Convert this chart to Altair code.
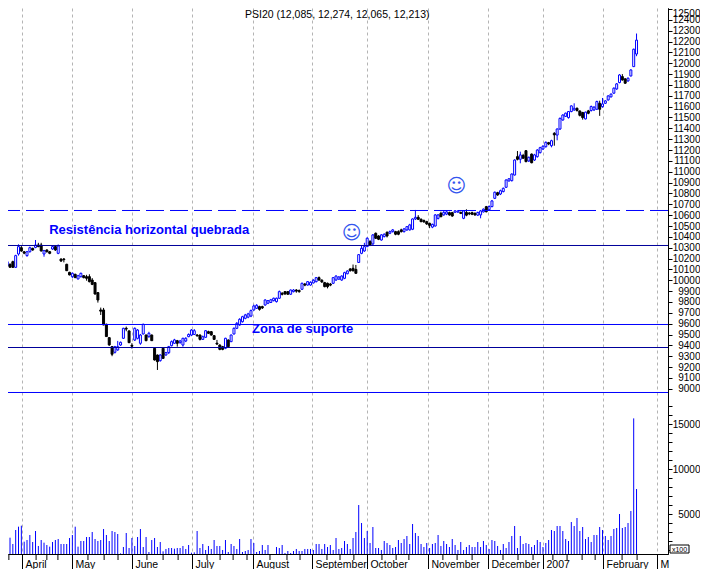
import json
import altair as alt
import pandas as pd

# --- one row per trading day: open, close, high, low (index points) ---
opens = [10079,10125,10131,10147,10171,10119,10242,10300,10262,10227,10263,10294,10303,10325,10325,10242,10279,10263,10288,10310,10248,
 10196,10196,10147,10073,10033,10055,10012,10033,10042,10033,10033,10002,9978,9886,9726,9726,9594,9471,9388,9336,9358,9403,9465,9557,9533,9400,
 9449,9465,9419,9505,9495,9480,9495,9373,9311,9259,9373,9311,9333,9397,9419,9443,9425,9403,9440,9480,9495,9500,9495,9495,9455,9474,9526,9526,9489,9420,9403,9388,9373,9449,9434,9505,9557,9588,9618,9649,9660,9670,
 9726,9741,9757,9757,9772,9788,9795,9812,9803,9834,9880,9895,9895,9871,9895,9910,9905,9917,9965,9956,9956,9975,9987,10024,10000,9978,9972,9965,9972,10002,10010,10002,10018,10060,10104,10110,10100,
 10164,10248,10270,10310,10356,10335,10433,10408,10371,10402,10442,10433,10448,10448,10448,10464,10448,10464,10464,10470,10565,10580,10562,10550,10540,10525,10490,10500,10570,10617,10602,10610,10623,10623,10627,10628,10626,10571,10625,10620,10623,10617,10600,10602,10630,10678,10650,10679,
 10755,10807,10795,10817,10857,10915,10918,10970,11139,11115,11150,11194,11099,11163,11108,11139,11176,11210,11231,11268,11240,11354,11338,11394,11477,11510,11499,11555,11570,11585,11560,11546,11487,11561,11564,11570,11576,11631,11600,11631,11662,11690,11724,11763,11822,11877,11856,11837,11883,11969,12085]
closes = [10125,10156,10171,10120,10119,10227,10310,10270,10250,10263,10300,10279,10325,10310,10270,10273,10263,10248,10310,10279,10316,
 10177,10190,10088,10049,10064,10024,10042,10064,10024,10018,9987,9962,9873,9818,9715,9588,9481,9404,9318,9388,9388,9428,9557,9550,9425,9392,
 9557,9541,9495,9594,9443,9511,9443,9265,9250,9311,9280,9333,9388,9434,9450,9419,9440,9465,9465,9500,9541,9535,9488,9455,9480,9535,9511,9495,9455,9412,9363,9363,9465,9388,9495,9557,9603,9640,9664,9680,9690,9720,
 9763,9769,9732,9745,9818,9812,9820,9834,9834,9895,9870,9874,9871,9910,9910,9900,9895,9972,9955,9987,9981,10000,10024,10002,9985,9941,9941,9955,10024,10039,10030,10039,10070,10085,10088,10088,10064,
 10236,10294,10310,10387,10325,10418,10387,10378,10418,10424,10408,10448,10464,10424,10424,10448,10473,10494,10510,10565,10580,10562,10540,10538,10519,10506,10515,10602,10602,10586,10626,10630,10602,10592,10640,10638,10616,10639,10600,10612,10608,10602,10625,10639,10655,10632,10680,10731,
 10811,10786,10825,10847,10924,10935,10979,11108,11115,11155,11125,11093,11133,11083,11155,11200,11222,11235,11271,11256,11286,11340,11394,11492,11523,11540,11555,11607,11585,11564,11520,11499,11549,11539,11601,11595,11647,11576,11625,11653,11699,11715,11770,11810,11892,11846,11816,11862,11938,12129,12213]
highs = [10135,10165,10180,10155,10180,10235,10331,10315,10270,10270,10310,10300,10371,10345,10345,10280,10285,10270,10320,10320,10330,
 10200,10205,10152,10078,10072,10060,10050,10070,10047,10050,10055,10020,9982,9890,9748,9745,9600,9475,9392,9395,9441,9435,9562,9573,9537,9420,
 9565,9550,9505,9600,9500,9525,9500,9378,9315,9318,9378,9340,9395,9445,9460,9450,9450,9470,9475,9510,9550,9550,9505,9500,9490,9540,9535,9532,9495,9450,9409,9395,9470,9455,9500,9565,9615,9650,9672,9690,9700,9730,
 9775,9780,9765,9765,9825,9818,9828,9840,9840,9905,9890,9900,9898,9915,9918,9918,9915,9978,9975,9992,9990,10010,10030,10035,10010,9985,9978,9975,10030,10045,10038,10045,10078,10092,10112,10145,10141,
 10240,10320,10345,10395,10370,10425,10440,10415,10425,10432,10450,10458,10472,10455,10460,10475,10482,10500,10520,10570,10648,10600,10570,10560,10548,10530,10522,10610,10610,10632,10640,10640,10632,10630,10645,10645,10632,10645,10654,10628,10632,10625,10632,10648,10662,10685,10690,10740,
 10818,10815,10835,10855,10930,10942,10985,11115,11191,11185,11165,11200,11140,11168,11165,11208,11230,11245,11280,11275,11295,11365,11400,11500,11530,11545,11560,11612,11631,11592,11565,11552,11555,11570,11610,11605,11655,11655,11680,11660,11705,11722,11778,11818,11900,11900,11862,11870,11945,12135,12274]
lows = [10065,10115,10125,10115,10115,10115,10227,10262,10240,10217,10255,10272,10295,10305,10265,10217,10255,10240,10280,10270,10240,
 10170,10165,10085,10045,10020,10020,10008,10025,10018,9996,9980,9955,9868,9794,9680,9585,9478,9395,9300,9325,9350,9395,9460,9530,9420,9370,
 9440,9455,9405,9500,9438,9470,9440,9260,9173,9250,9275,9305,9320,9390,9415,9388,9415,9388,9430,9475,9485,9495,9480,9445,9450,9470,9505,9490,9450,9405,9355,9355,9365,9380,9430,9500,9550,9580,9610,9640,9650,9660,
 9720,9735,9720,9735,9765,9780,9790,9805,9795,9828,9860,9865,9865,9865,9888,9885,9885,9910,9945,9950,9950,9970,9980,9995,9975,9935,9925,9945,9965,9995,10005,9995,10010,10055,10080,10080,10060,
 10160,10240,10262,10305,10315,10325,10380,10370,10365,10395,10395,10425,10440,10415,10415,10440,10440,10455,10458,10462,10555,10555,10535,10530,10510,10480,10480,10495,10560,10580,10595,10600,10595,10585,10620,10622,10610,10563,10590,10600,10600,10595,10592,10571,10625,10625,10640,10672,
 10748,10778,10785,10810,10850,10910,10910,10965,11105,11078,11118,11088,11090,11078,11100,11130,11168,11200,11222,11245,11225,11240,11290,11385,11470,11505,11490,11548,11560,11555,11510,11480,11482,11530,11555,11560,11570,11515,11590,11625,11655,11685,11718,11755,11815,11840,11810,11830,11878,11965,12065]
volumes = [2343,1605,2712,2417,1716,3266,3635,3746,1974,2159,2712,1937,3155,1495,2159,1864,1605,1421,1937,2159,2270,1716,1716,1716,2380,2712,3635,1421,2048,2048,2491,2491,3044,2270,2048,2159,3377,2712,2048,3155,3044,2823,683,1384,2934,1273,2380,1495,2491,3377,1384,2491,830,2159,2380,1384,1937,
 904,1163,1273,1273,1199,1273,1273,1495,1163,1605,757,794,3155,1273,1716,1052,1495,1163,2159,1495,1495,1052,2159,830,1716,1495,1163,2270,830,941,1052,2270,1827,830,941,1605,1052,1605,609,609,1384,1273,1605,720,941,720,941,1163,941,941,1163,1163,1163,1052,1716,1716,1163,1716,1384,1605,1052,2380,1163,1273,2048,1716,
 1163,2380,3044,6033,4041,2380,3155,1827,3598,1273,1273,1052,2048,1827,1605,1273,1384,2159,1827,2270,2602,1716,3930,2934,2602,1716,1384,1827,1273,1716,1827,2712,1495,2048,1716,1384,2270,1605,1052,1937,1052,1384,1605,1384,1384,1937,1384,2048,1605,1163,2159,2048,1495,1052,1716,1273,1937,2602,3709,1273,2602,1716,1827,1716,1384,1605,2159,1937,1384,1827,2159,3266,3155,3709,3709,3155,2270,2048,4151,3709,4594,3155,3598,2270,2491,1937,2712,2712,3598,3266,2602,2159,2602,3377,3487,5037,3487,3598,4041,5369,15627,7805]

# --- axes ---
month_days = [7.25,24.85,46,67.2,88.7,109.5,128.9,150.4,171.6,191,212.2,231.2]
month_names = ["April","May","June","July","August","September","October","November","December","2007","February","M"]
week_days = [2.6,12.2,16,19.9,30.5,36.2,41.1,51.3,57,62.3,72.5,77.1,81.7,86.6,94.7,100.7,105.3,114.8,119.4,124.3,134.2,139.2,143.7,155.7,160.7,166,176.9,182.2,187.5,194.5,199.5,204.8,209.4,218.9,224.2]
price_ticks = list(range(9000, 12501, 100))
volume_ticks = list(range(1000, 17001, 1000))

# --- annotations ---
level_solid_blue = [9592.2, 8965.5]
level_dark = [10320.3, 9380.2]
level_dashed = [10642.9]
notes = ["Resistência horizontal quebrada", "Zona de suporte"]
note_day = [16.8, 88.4]
note_price = [10467, 9551]
smile_day = [123.5, 160.5]
smile_price = [10437, 10870]
title_text = "PSI20 (12,085, 12,274, 12,065, 12,213)"

n = len(opens)
assert n == len(closes) == len(highs) == len(lows) == len(volumes) == 225
df = pd.DataFrame({"day": range(n), "o": opens, "c": closes, "h": highs, "l": lows, "v": volumes})
df["top"] = df[["o", "c"]].max(axis=1)
df["bot"] = df[["o", "c"]].min(axis=1)
df["d0"] = df["day"] - 0.35
df["d1"] = df["day"] + 0.35

BLUE = "#0000ff"
FONT = "Liberation Sans"

x_scale = alt.Scale(domain=[2.293, 235.1], nice=False, zero=False)
label_expr = "%s[indexof(%s, datum.value)]" % (json.dumps(month_names), json.dumps(month_days))
x_axis = alt.Axis(values=month_days, labelExpr=label_expr, title=None, grid=True, gridDash=[3, 3],
                  gridColor="#b4b4b4", gridWidth=1, tickSize=15, tickColor="#000000", domainColor="#000000",
                  labelAlign="left", labelBaseline="top", labelPadding=-10, labelOffset=3, labelFontSize=10.5,
                  labelFlush=False, labelOverlap=False, labelBound=False, labelColor="#000000", labelFont=FONT)
X = alt.X("day:Q", scale=x_scale, axis=x_axis)
XL = alt.X("d0:Q", scale=x_scale, axis=x_axis)

p_scale = alt.Scale(domain=[7477, 12509.2], nice=False, zero=False)
p_axis = alt.Axis(orient="right", values=price_ticks, format="d", title=None, grid=False, tickSize=4,
                  labelPadding=28, labelAlign="right", labelFontSize=10, labelColor="#000000", labelFont=FONT,
                  labelBaseline={"condition": {"test": "datum.value == 12500", "value": "top"}, "value": "middle"},
                  tickColor="#000000", domainColor="#000000", labelOverlap=False, labelBound=False, labelFlush=False)
Y = lambda f: alt.Y(f, scale=p_scale, axis=p_axis)

v_scale = alt.Scale(domain=[609, 61074], nice=False, zero=False)
v_axis = alt.Axis(orient="right", values=volume_ticks, title=None, grid=False, tickSize=4,
                  labelExpr="datum.value % 5000 === 0 ? datum.value : ''",
                  labelPadding=28, labelAlign="right", labelFontSize=10, labelColor="#000000", labelFont=FONT,
                  tickColor="#000000", domainColor="#000000", labelOverlap=False, labelBound=False, labelFlush=False)

up = "datum.c >= datum.o"
down = "datum.c < datum.o"
base = alt.Chart(df)
wick_up = base.transform_filter(up).mark_rule(color=BLUE, strokeWidth=1).encode(x=X, y=Y("l:Q"), y2="h:Q")
wick_dn = base.transform_filter(down).mark_rule(color="#000000", strokeWidth=1).encode(x=X, y=Y("l:Q"), y2="h:Q")
body_up = base.transform_filter(up).mark_rect(fill="#ffffff", stroke=BLUE, strokeWidth=1).encode(x=XL, x2="d1:Q", y=Y("bot:Q"), y2="top:Q")
body_dn = base.transform_filter(down).mark_rect(fill="#000000", stroke="#000000", strokeWidth=1).encode(x=XL, x2="d1:Q", y=Y("bot:Q"), y2="top:Q")


def hline(values, color, dash=None):
    kw = {"strokeDash": dash} if dash else {}
    return alt.Chart(pd.DataFrame({"p": values})).mark_rule(color=color, strokeWidth=1, **kw).encode(y=Y("p:Q"))


notes_layer = alt.Chart(pd.DataFrame({"day": note_day, "p": note_price, "t": notes})).mark_text(
    align="left", baseline="middle", font=FONT, fontSize=13, fontWeight="bold", color=BLUE
).encode(x=X, y=Y("p:Q"), text="t:N")
smiles = alt.Chart(pd.DataFrame({"day": smile_day, "p": smile_price, "t": ["\u263a", "\u263a"]})).mark_text(
    align="center", baseline="middle", font="DejaVu Sans", fontSize=19, color="#3355ee"
).encode(x=X, y=Y("p:Q"), text="t:N")
title_layer = alt.Chart(pd.DataFrame({"t": [title_text]})).mark_text(
    align="left", baseline="middle", font=FONT, fontSize=10.5, color="#000000"
).encode(x=alt.value(237), y=alt.value(7), text="t:N")

price = alt.layer(wick_up, wick_dn, body_up, body_dn,
                  hline(level_solid_blue, BLUE), hline(level_dark, "#00009a"), hline(level_dashed, BLUE, [18, 6]),
                  notes_layer, smiles, title_layer)

vol_bars = base.mark_rule(color=BLUE, strokeWidth=1).encode(
    x=X, y=alt.Y("v:Q", scale=v_scale, axis=v_axis), y2=alt.value(546))
minor = alt.Chart(pd.DataFrame({"day": week_days})).mark_rule(color="#000000", strokeWidth=1).encode(
    x=X, y=alt.value(546), y2=alt.value(552))
box_df = pd.DataFrame({"t": ["x100"]})
box = alt.Chart(box_df).mark_rect(fill="#ffffff", stroke="#000000", strokeWidth=1).encode(
    x=alt.value(662), x2=alt.value(681), y=alt.value(537), y2=alt.value(545))
box_text = alt.Chart(box_df).mark_text(font=FONT, fontSize=7, color="#000000", align="center", baseline="middle").encode(
    x=alt.value(671.5), y=alt.value(541.5), text="t:N")
volume = alt.layer(vol_bars, minor, box, box_text)

chart = alt.layer(price, volume).resolve_scale(y="independent").properties(
    width=660, height=546,
    autosize=alt.AutoSizeParams(type="none"),
    padding={"left": 0, "top": 0, "right": 32, "bottom": 15},
    background="#ffffff",
).configure_view(stroke=None)

chart.save("out.html", embed_options={"renderer": "svg", "actions": False})
